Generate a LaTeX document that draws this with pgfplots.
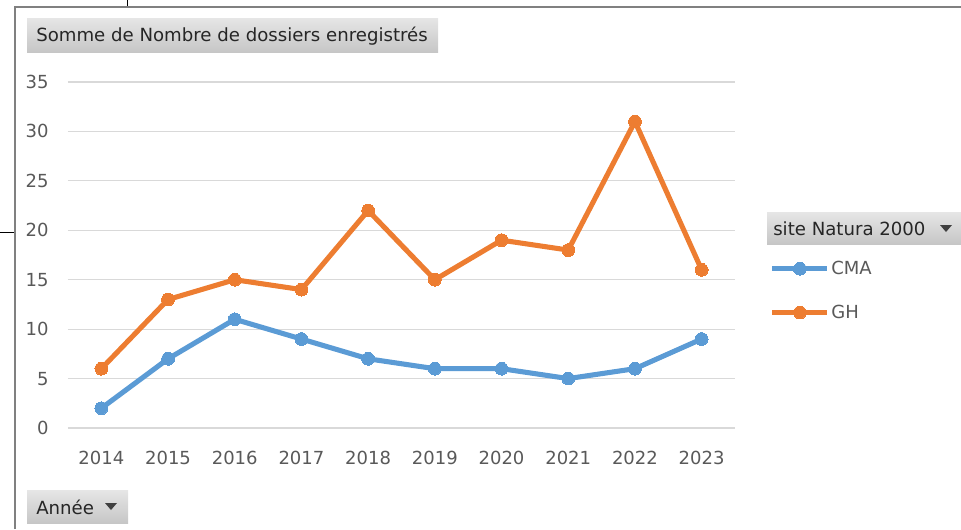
\documentclass[border=0pt]{standalone}
\usepackage{pgfplots}
\pgfplotsset{compat=1.18}
\usepackage{fontspec}
\setmainfont{DejaVu Sans}
\definecolor{cma}{HTML}{5B9BD5}
\definecolor{gh}{HTML}{ED7D31}
\definecolor{tickc}{HTML}{595959}
\definecolor{gridc}{HTML}{D9D9D9}
\definecolor{btntop}{HTML}{E6E6E6}
\definecolor{btnbot}{HTML}{C6C6C6}
\begin{document}
\begin{tikzpicture}
% px -> 0.75pt, y downwards
\begin{scope}[x=0.75pt,y=-0.75pt]
  \useasboundingbox (0,0) rectangle (961,529);
  \draw[black,line width=0.6pt] (127,0) -- (127,7);
  \draw[black,line width=0.6pt] (0,232) -- (15,232);
  \draw[gray,line width=1.4pt] (15,529) -- (15,7) -- (961,7);
  % title button
  \shade[top color=btntop,bottom color=btnbot] (27,18) rectangle (438,52);
  \node[anchor=west,inner sep=0,font=\fontsize{13.6}{15}\selectfont,text=black!85] at (36,36) {Somme de Nombre de dossiers enregistrés};
  % legend button
  \shade[top color=btntop,bottom color=btnbot] (767,212) rectangle (961,244);
  \node[anchor=west,inner sep=0,font=\fontsize{13.6}{15}\selectfont,text=black!85] at (773,229) {site Natura 2000};
  \fill[black!75] (940,225) -- (952,225) -- (946,232) -- cycle;
  % annee button
  \shade[top color=btntop,bottom color=btnbot] (27,490) rectangle (128,523);
  \node[anchor=west,inner sep=0,font=\fontsize{13.6}{15}\selectfont,text=black!85] at (36,507) {Année};
  \fill[black!75] (105,503) -- (117,503) -- (111,510) -- cycle;
\end{scope}
\begin{axis}[
    at={(51pt,-321pt)}, anchor=south west,
    scale only axis,
    width=500.25pt, height=259.5pt,
    xmin=-0.5, xmax=9.5,
    ymin=0, ymax=35,
    xtick={0,...,9},
    xticklabels={2014,2015,2016,2017,2018,2019,2020,2021,2022,2023},
    ytick={0,5,...,35},
    axis line style={draw=none},
    major tick length=0pt,
    xmajorgrids=false,
    ymajorgrids=true,
    major grid style={draw=gridc,line width=0.9pt},
    tick label style={text=tickc,font=\fontsize{13.5}{15}\selectfont},
    /pgf/number format/assume math mode=true,
    xticklabel style={yshift=-13.5pt},
    yticklabel style={xshift=-11pt},
    clip=false,
    legend style={at={(1.052,0.487)},anchor=north west,draw=none,fill=none,
      font=\fontsize{13.5}{15}\selectfont,text=tickc,inner sep=0pt,
      row sep=19.3pt, nodes={inner sep=1pt}},
    legend cell align=left,
    legend image code/.code={
      \draw[#1,mark repeat=2,mark phase=2] plot coordinates {(0pt,0pt) (20.6pt,0pt) (41.25pt,0pt)};
    },
]
\addplot[cma,line width=3.8pt,mark=*,mark size=4.8pt,mark options={line width=0pt}]
  coordinates {(0,2)(1,7)(2,11)(3,9)(4,7)(5,6)(6,6)(7,5)(8,6)(9,9)};
\addlegendentry{CMA}
\addplot[gh,line width=3.8pt,mark=*,mark size=4.8pt,mark options={line width=0pt}]
  coordinates {(0,6)(1,13)(2,15)(3,14)(4,22)(5,15)(6,19)(7,18)(8,31)(9,16)};
\addlegendentry{GH}
\end{axis}
\end{tikzpicture}
\end{document}
